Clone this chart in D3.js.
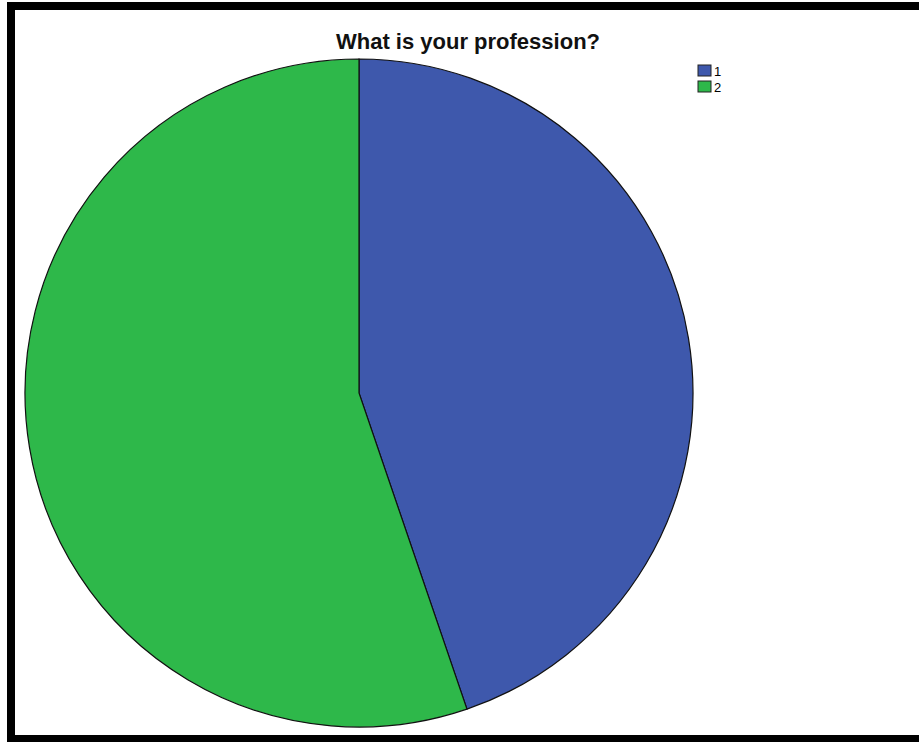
<!DOCTYPE html>
<html>
<head>
<meta charset="utf-8">
<script src="https://cdn.jsdelivr.net/npm/d3@7"></script>
<style>
body { margin: 0; background: #fff; }
</style>
</head>
<body>
<div id="corpo"></div>
<script>
// data
var categories = ["1", "2"];
var counts = [47, 58];
var colors = ["#3e58ac", "#2eb84a"];

var width = 919, height = 742;
var cx = 359, cy = 393, radius = 334;

var svg = d3.select("#corpo").append("svg")
    .attr("width", width)
    .attr("height", height);

// frame (top, left, bottom only, like the picture)
svg.append("rect").attr("x", 7).attr("y", 2).attr("width", width - 7).attr("height", 8).attr("fill", "#000");
svg.append("rect").attr("x", 7).attr("y", 2).attr("width", 8).attr("height", height - 2).attr("fill", "#000");
svg.append("rect").attr("x", 7).attr("y", 735).attr("width", width - 7).attr("height", 7).attr("fill", "#000");

var data = categories.map(function(c, i) { return {tipo: c, valor: counts[i]}; });

var pie = d3.pie()
    .sort(null)
    .value(function(d) { return d.valor; })(data);

var arc = d3.arc()
    .outerRadius(radius)
    .innerRadius(0);

var g = svg.append("g")
    .attr("transform", "translate(" + cx + "," + cy + ")");

g.selectAll(".arc")
    .data(pie)
    .enter().append("path")
    .attr("class", "arc")
    .attr("d", arc)
    .style("fill", function(d, i) { return colors[i]; })
    .style("stroke", "#111")
    .style("stroke-width", 1.2);

svg.append("text")
    .attr("x", 468)
    .attr("y", 49)
    .attr("text-anchor", "middle")
    .style("font-family", "Liberation Sans, Arial, sans-serif")
    .style("font-weight", "bold")
    .style("font-size", "22px")
    .style("fill", "#111")
    .text("What is your profession?");

var legend = svg.selectAll(".leg")
    .data(categories)
    .enter().append("g")
    .attr("class", "leg")
    .attr("transform", function(d, i) { return "translate(698," + (65 + i * 16) + ")"; });

legend.append("rect")
    .attr("width", 13)
    .attr("height", 11)
    .style("fill", function(d, i) { return colors[i]; })
    .style("stroke", "#222")
    .style("stroke-width", 1);

legend.append("text")
    .attr("x", 16)
    .attr("y", 10.5)
    .style("font-family", "Liberation Sans, Arial, sans-serif")
    .style("font-size", "13px")
    .style("fill", "#000")
    .text(function(d) { return d; });
</script>
</body>
</html>
